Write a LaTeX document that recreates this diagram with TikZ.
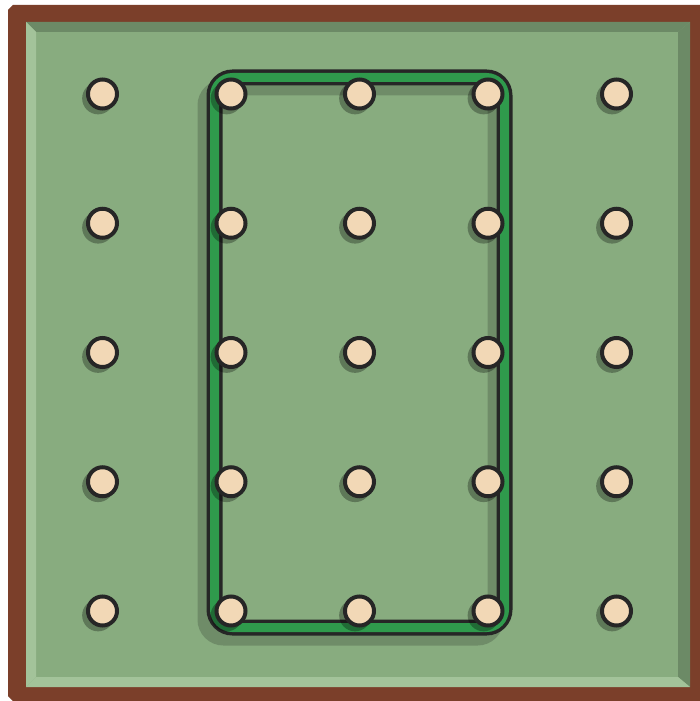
\documentclass[tikz,border=0pt]{standalone}
\usepackage{tikz}
\usepackage{xcolor}
\usetikzlibrary{positioning}
\usetikzlibrary{fit}
\usetikzlibrary{shadows}
\usetikzlibrary{backgrounds}
\definecolor{frame}{HTML}{7B3F2A}
\definecolor{board}{HTML}{88AC7F}
\definecolor{boarddark}{HTML}{6C8A66}
\definecolor{boardlight}{HTML}{A3C39A}
\definecolor{bandgreen}{HTML}{2F9A4C}
\definecolor{pegbeige}{HTML}{F2D8B6}

\begin{document}
\begin{tikzpicture}[x=0.5pt, y=-0.5pt,
                    peg/.style={circle, draw=black!85, line width=2pt, fill=pegbeige,
                                minimum size=14.5pt, inner sep=0pt,
                                drop shadow={shadow xshift=-2pt, shadow yshift=-2pt,
                                             shadow scale=1.1, fill=black, opacity=.3}},
                    band/.style={rounded corners=9pt, draw=black!85, line width=1.75pt,
                                 double=bandgreen, double distance=4.5pt, inner sep=0pt},
                    bandshadow/.style={rounded corners=9pt, draw=black, opacity=.18,
                                       line width=8pt, inner sep=0pt}]

  \useasboundingbox (0,0) rectangle (700,701);

  \begin{scope}[on background layer]
    % frame and board
    \fill[white] (0,0) rectangle (700,701);
    \fill[frame] (8,10) -- (13,5) -- (700,5) -- (700,701) -- (13,701) -- (8,696) -- cycle;
    \fill[board] (26,22) rectangle (690,687);
    \fill[boarddark] (26,22) -- (690,22) -- (678,32) -- (36,32) -- cycle;
    \fill[boarddark] (690,22) -- (690,687) -- (678,677) -- (678,32) -- cycle;
    \fill[boardlight] (26,22) -- (36,32) -- (36,677) -- (26,687) -- cycle;
    \fill[boardlight] (26,687) -- (690,687) -- (678,677) -- (36,677) -- cycle;
  \end{scope}

  \foreach \c in {1,...,5}
    \foreach \r in {1,...,5}
      \node[peg] (p\c\r) at ({102.5+128.5*(\c-1)}, {94+129.25*(\r-1)}) {};

  \begin{scope}[on background layer]
    \node[bandshadow, fit=(p21)(p45), xshift=-4.5pt, yshift=-5pt] (bandsh) {};
    \node[band, fit=(p21)(p45)] (band) {};
  \end{scope}

\end{tikzpicture}
\end{document}
